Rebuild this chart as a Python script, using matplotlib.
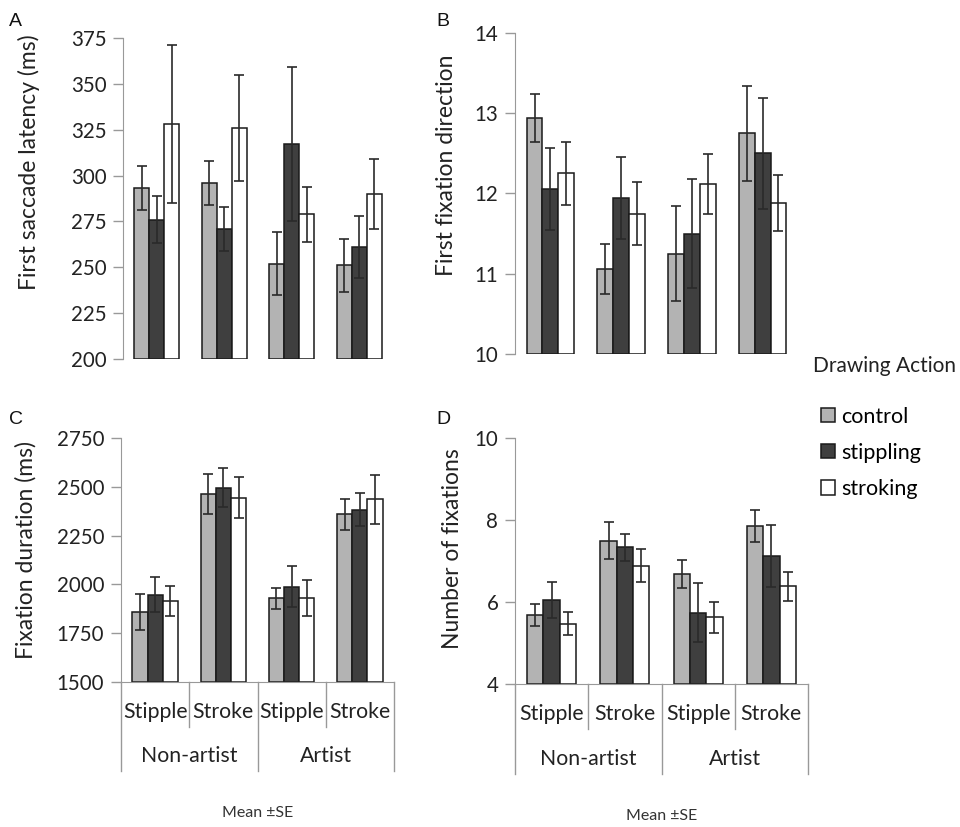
import matplotlib
matplotlib.use("Agg")
import matplotlib.pyplot as plt
import numpy as np
from matplotlib.patches import Patch

plt.rcParams['font.family'] = ['Lato', 'DejaVu Sans']
plt.rcParams['font.size'] = 15

actions = ["control", "stippling", "stroking"]
colors = ["#b3b3b3", "#3f3f3f", "#ffffff"]
styles = ["Stipple", "Stroke", "Stipple", "Stroke"]
groups = ["Non-artist", "Artist"]

# panel A: first saccade latency (ms)
lat_mean = {"control": [293, 296, 252, 251],
            "stippling": [276, 271, 317, 261],
            "stroking": [328, 326, 279, 290]}
lat_se = {"control": [12, 12, 17, 14.5],
          "stippling": [13, 12, 42, 17],
          "stroking": [43, 29, 15, 19]}

# panel B: first fixation direction
dir_mean = {"control": [12.94, 11.06, 11.25, 12.75],
            "stippling": [12.06, 11.94, 11.50, 12.50],
            "stroking": [12.25, 11.75, 12.12, 11.88]}
dir_se = {"control": [0.30, 0.31, 0.59, 0.59],
          "stippling": [0.51, 0.51, 0.68, 0.69],
          "stroking": [0.39, 0.39, 0.37, 0.35]}

# panel C: fixation duration (ms)
dur_mean = {"control": [1858, 2465, 1928, 2360],
            "stippling": [1948, 2496, 1989, 2383],
            "stroking": [1914, 2445, 1930, 2435]}
dur_se = {"control": [94, 102, 56, 79],
          "stippling": [90, 100, 105, 86],
          "stroking": [77, 105, 90, 125]}

# panel D: number of fixations
num_mean = {"control": [5.69, 7.50, 6.68, 7.86],
            "stippling": [6.05, 7.34, 5.74, 7.13],
            "stroking": [5.47, 6.89, 5.63, 6.38]}
num_se = {"control": [0.27, 0.45, 0.34, 0.39],
          "stippling": [0.43, 0.33, 0.72, 0.76],
          "stroking": [0.28, 0.40, 0.38, 0.35]}

fig = plt.figure(figsize=(9.6, 8.27), dpi=100)

def px_rect(left, right, top, bottom):
    return [left / 960, 1 - bottom / 827, (right - left) / 960, (bottom - top) / 827]

axA = fig.add_axes(px_rect(123, 393, 38, 359))
axB = fig.add_axes(px_rect(515, 798, 33, 354))
axC = fig.add_axes(px_rect(121, 394, 438, 682))
axD = fig.add_axes(px_rect(515, 808, 438, 684))

w = 0.223
x = np.arange(4) + 0.5

def draw_bars(ax, means, ses, ylim, yticks, ylabel, labelx, labely):
    for i, a in enumerate(actions):
        xs = x + (i - 1) * w
        ax.bar(xs, np.array(means[a]) - ylim[0], w, bottom=ylim[0], color=colors[i],
               edgecolor="#1a1a1a", linewidth=1.1, zorder=2)
        ax.errorbar(xs, means[a], yerr=ses[a], fmt="none", ecolor="#2a2a2a",
                    elinewidth=1.2, capsize=3.5, capthick=1.2, zorder=3)
    ax.set_xlim(0, 4)
    ax.set_ylim(*ylim)
    ax.set_yticks(yticks)
    ax.set_ylabel(ylabel, fontsize=16.5, color="#222222")
    ax.yaxis.set_label_coords(labelx, labely)
    for s in ["top", "right"]:
        ax.spines[s].set_visible(False)
    ax.spines["left"].set_color("#999999")
    ax.spines["bottom"].set_color("#999999")
    ax.tick_params(axis="y", length=7, width=1, color="#999999", pad=5,
                   labelsize=14.8, labelcolor="#222222")
    ax.set_xticks([])

draw_bars(axA, lat_mean, lat_se, (200, 375), np.arange(200, 376, 25),
          "First saccade latency (ms)", -0.307, 0.614)
draw_bars(axB, dir_mean, dir_se, (10, 14), np.arange(10, 15, 1),
          "First fixation direction", -0.205, 0.589)
draw_bars(axC, dur_mean, dur_se, (1500, 2750), np.arange(1500, 2751, 250),
          "Fixation duration (ms)", -0.308, 0.541)
draw_bars(axD, num_mean, num_se, (4, 10), np.arange(4, 11, 2),
          "Number of fixations", -0.177, 0.552)

for ax in [axA, axB]:
    ax.spines["bottom"].set_visible(False)

# Excel-style two-row category axis
for ax in [axC, axD]:
    tr = ax.get_xaxis_transform()
    for k in range(5):
        low = -0.365 if k % 2 == 0 else -0.183
        ax.plot([k, k], [0, low], transform=tr, color="#999999", lw=1, clip_on=False)
    for k, s in enumerate(styles):
        ax.text(k + 0.5, -0.122, s, transform=tr, ha="center", va="center",
                fontsize=15.3, color="#222222")
    for k, g in enumerate(groups):
        ax.text(2 * k + 1, -0.305, g, transform=tr, ha="center", va="center",
                fontsize=15.3, color="#222222")
    ax.text(0.5, -0.535, "Mean \u00b1SE", transform=ax.transAxes, ha="center",
            va="center", fontsize=11.5, color="#333333")

# panel letters
for lbl, (px, py) in zip("ABCD", [(9, 21), (436, 21), (9, 419), (436, 419)]):
    fig.text(px / 960, 1 - py / 827, lbl, fontsize=14, family="Liberation Sans",
             ha="left", va="center", color="#111111")

# legend
fig.text(813 / 960, 1 - 366 / 827, "Drawing Action", fontsize=15, ha="left",
         va="center", color="#222222")
handles = [Patch(facecolor=c, edgecolor="#1a1a1a", linewidth=1.1) for c in colors]
fig.legend(handles, actions, loc="upper left", bbox_to_anchor=(812 / 960, 1 - 398 / 827),
           frameon=False, fontsize=15.5, handlelength=0.65, handleheight=0.65,
           handletextpad=0.3, labelspacing=0.75, borderaxespad=0)

fig.savefig("out.png", dpi=100)
